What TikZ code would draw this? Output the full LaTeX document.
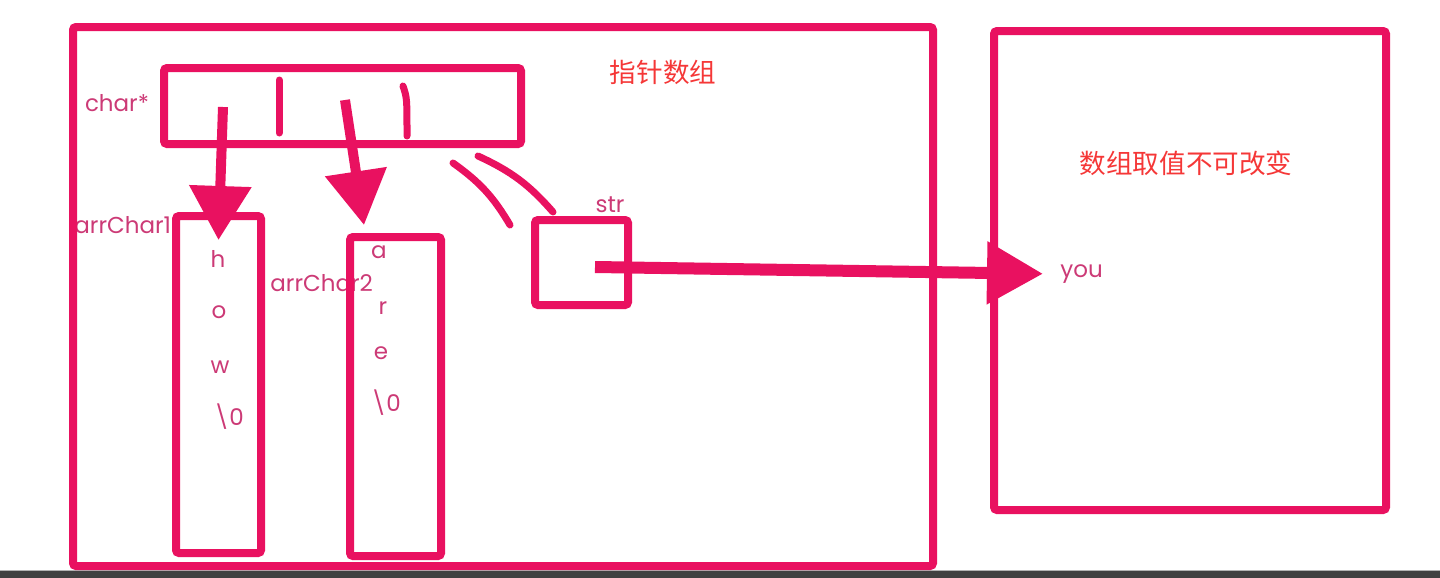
\documentclass[tikz,border=0pt]{standalone}
\usepackage{fontspec}
\setmainfont{Poppins}
\newfontfamily\cjk{Noto Sans CJK SC}
\usetikzlibrary{arrows.meta,positioning,calc}
\definecolor{memline}{RGB}{233,17,96}
\definecolor{memtext}{RGB}{204,58,118}
\definecolor{memnote}{RGB}{245,55,55}
\tikzset{
  membox/.style={
    rectangle, draw=memline, line width=4pt,
    rounded corners=1.5pt, inner sep=0pt
  },
  memstroke/.style={draw=memline,line width=3.5pt,line cap=round},
  memptr/.style={-{Triangle[length=27pt,width=30pt]},draw=memline,line width=5pt},
  memlabel/.style={font=\fontsize{11.5}{13}\selectfont,text=memtext,inner sep=1pt},
  memchar/.style={memlabel},
  memnote/.style={font=\cjk\fontsize{13.3}{15}\selectfont,text=memnote}
}

\begin{document}
\begin{tikzpicture}[x=0.5pt,y=-0.5pt]
  \useasboundingbox (0,0) rectangle (1440,578);
  % bar of the screen
  \fill[black!75] (0,570) rectangle (1440,578);
  \draw[black!30,line width=0.5pt] (0,570) -- (1440,570);

  % labels (boxes go over them)
  \node[memlabel] (lchar) at (117,103) {char*};
  \node[memlabel,anchor=west] (larr1) at (72,225) {arrChar1};
  \node[memlabel,anchor=west] (larr2) at (268,283) {arrChar2};
  \node[memlabel] (lstr) at (610,205) {str};

  % Pointer array
  \node[membox,minimum width=430pt,minimum height=269.5pt] (frame) at (503,296.5) {};
  \node[memnote] (title) at (663,72) {指针数组};
  \node[membox,minimum width=178.5pt,minimum height=38pt] (ptrs) at (342.5,106) {};
  \draw[memstroke] (279,80) -- (279,133);
  \draw[memstroke] (403,86) .. controls (407,98) .. (407,136);

  % Strings
  \node[membox,minimum width=42.5pt,minimum height=168.5pt] (arr1) at (218.5,384.5) {};
  \node[memchar] (c11) at (218,259) {h};
  \node[memchar] (c12) at (219,312) {o};
  \node[memchar] (c13) at (220,367) {w};
  \node[memchar] (c14) at (229,417) {\textbackslash 0};

  \node[membox,minimum width=45.5pt,minimum height=159.5pt] (arr2) at (395.5,396.5) {};
  \node[memchar] (c21) at (379,252) {a};
  \node[memchar] (c22) at (383,308) {r};
  \node[memchar] (c23) at (381,353) {e};
  \node[memchar] (c24) at (386,403) {\textbackslash 0};

  \node[membox,minimum width=46.5pt,minimum height=42.5pt] (str) at (581.5,262.5) {};
  \draw[memstroke] (453,163) to[bend left=12] (510,225);
  \draw[memstroke] (478,156) to[bend left=12] (553,212);

  % Read-only area
  \node[membox,minimum width=196pt,minimum height=239.5pt] (ro) at (1190,270.5) {};
  \node[memnote] (ronote) at (1186,163) {数组取值不可改变};
  \node[memlabel,anchor=west] (you) at (1058,274) {you};

  % pointers
  \coordinate (slot1) at (223,107);
  \coordinate (slot2) at (345,100);
  \coordinate (strval) at (595,267);
  \draw[memptr] (slot1) -- ([yshift=-14pt]arr1.north);
  \draw[memptr] (slot2) -- ($(arr2.north west)+(18,-8)$);
  \draw[memptr,line width=6pt,-{Triangle[length=28pt,width=30pt]},shorten >=7.5pt]
    (strval) -- (you.west);
\end{tikzpicture}
\end{document}
